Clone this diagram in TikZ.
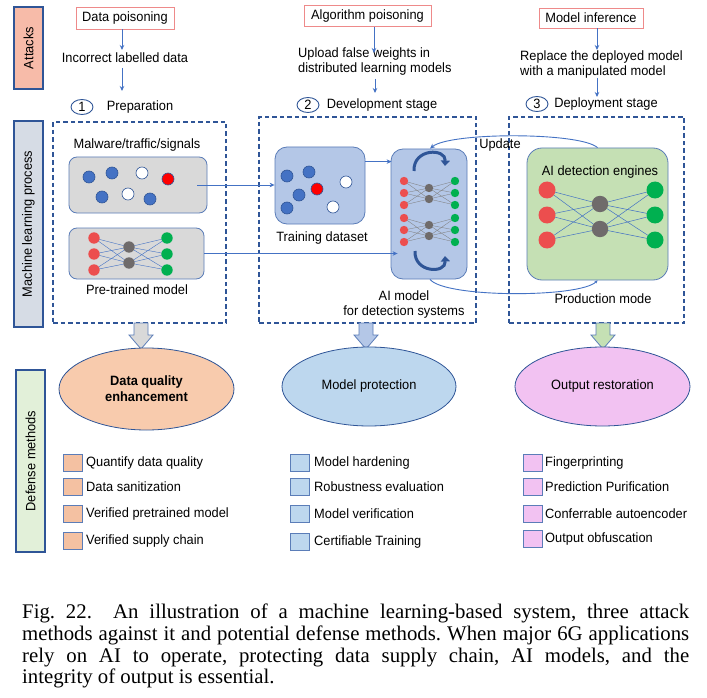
\documentclass[tikz,border=0pt]{standalone}
\usepackage{fontspec}
\setmainfont{Liberation Sans}[FakeStretch=0.95]
\newfontfamily\capfont{Liberation Serif}
\usetikzlibrary{arrows.meta,shapes.geometric,calc}
\definecolor{dblue}{HTML}{2F5597}
\definecolor{ablue}{HTML}{4472C4}
\definecolor{bordb}{HTML}{5B7DB8}
\definecolor{attfill}{HTML}{F7BBA9}
\definecolor{mlfill}{HTML}{D6DCE5}
\definecolor{deffill}{HTML}{E2F0D9}
\definecolor{pinkb}{HTML}{EE8A8A}
\definecolor{grayfill}{HTML}{D9D9D9}
\definecolor{bluefill}{HTML}{B4C7E7}
\definecolor{greenfill}{HTML}{C5E0B4}
\definecolor{orfill}{HTML}{F8CBAD}
\definecolor{sqor}{HTML}{F4C1A2}
\definecolor{lbfill}{HTML}{BDD7EE}
\definecolor{pkfill}{HTML}{F2C2F2}
\definecolor{nnred}{HTML}{EC4E4E}
\definecolor{nngreen}{HTML}{00B050}
\definecolor{nngray}{HTML}{6F6B6B}
\begin{document}
\frenchspacing
\begin{tikzpicture}[x=1pt,y=-1pt,
  font=\fontsize{13.5}{15.5}\selectfont,
  lab/.style={draw=dblue,line width=1.1pt,inner sep=0pt,minimum width=29pt},
  attbox/.style={draw=pinkb,line width=0.8pt,fill=white,inner sep=0pt},
  conn/.style={draw=ablue,line width=0.9pt,-{Stealth[length=5pt,width=4.5pt]}},
  dbox/.style={draw=dblue,line width=1.1pt,dash pattern=on 4.5pt off 3pt,inner sep=0pt},
  rbox/.style={draw=bordb,line width=0.8pt,inner sep=0pt},
  numc/.style={ellipse,draw=dblue,line width=0.9pt,inner sep=0pt,minimum width=22pt,minimum height=15pt},
  ell/.style={ellipse,draw=dblue,line width=0.8pt,inner sep=0pt,align=center},
  sq/.style={draw=bordb,line width=0.8pt,minimum width=19pt,minimum height=17pt,inner sep=0pt},
  item/.style={anchor=west,inner sep=0pt},
  txt/.style={inner sep=0pt}
]
\useasboundingbox (0,0) rectangle (707,698);
\fill[white] (0,0) rectangle (707,698);

% left labels
\node[lab,fill=attfill,minimum height=82pt] (att) at (28.5,48) {};
\node[rotate=90,txt] at (att.center) {Attacks};
\node[lab,fill=mlfill,minimum height=206pt] (mlp) at (28.5,224) {};
\node[rotate=90,txt] at (mlp.center) {Machine learning process};
\node[lab,fill=deffill,minimum height=182pt] (def) at (30.5,461) {};
\node[rotate=90,txt] at (def.center) {Defense methods};

% attacks
\node[attbox,minimum width=98pt,minimum height=22pt] (dp) at (125,18) {Data poisoning};
\node[txt] (t1) at (125,58) {Incorrect labelled data};
\coordinate (p1) at (122,91);
\draw[conn] (dp.south -| p1) -- (122,50);
\draw[conn] (122,68) -- (p1);
\node[numc] (c1) at (82,107) {1};
\node[txt] (prep) at (140,107) {Preparation};

\node[attbox,minimum width=127pt,minimum height=21pt] (ap) at (367.5,16) {Algorithm poisoning};
\node[txt,anchor=west,align=left,font=\fontsize{13.5}{15}\selectfont] (t2) at (298,62) {Upload false weights in\\distributed learning models};
\coordinate (p2) at (375,93);
\draw[conn] (ap.south -| 374,0) -- (374,53);
\draw[conn] (375,79) -- (p2);
\node[numc] (c2) at (308,105) {2};
\node[txt] (dev) at (382,105) {Development stage};

\node[attbox,minimum width=104pt,minimum height=20pt] (mi) at (591,18) {Model inference};
\node[txt,anchor=west,align=left,font=\fontsize{13.5}{15}\selectfont] (t3) at (520,64.5) {Replace the deployed model\\with a manipulated model};
\coordinate (p3) at (597,97);
\draw[conn] (mi.south -| p3) -- (597,50);
\draw[conn] (597,78) -- (p3);
\node[numc] (c3) at (537,104) {3};
\node[txt] (dep) at (606,104) {Deployment stage};

% dashed boxes
\node[dbox,minimum width=173pt,minimum height=201pt] (box1) at (139.5,222.5) {};
\node[dbox,minimum width=217pt,minimum height=206pt] (box2) at (367.5,220) {};
\node[dbox,minimum width=175pt,minimum height=206pt] (box3) at (596.5,220) {};

% box 1 content
\node[txt] (mts) at (137,145) {Malware/traffic/signals};
\node[rbox,fill=grayfill,rounded corners=8pt,minimum width=138pt,minimum height=56pt] (g1) at (138,185) {};
\foreach \x/\y in {89/177,112/173,102/197,150/199}
  \draw[draw=dblue,fill=ablue,line width=0.6pt] (\x,\y) circle (6);
\foreach \x/\y in {142/173,128/194}
  \draw[draw=dblue,fill=white,line width=0.6pt] (\x,\y) circle (6);
\draw[draw=dblue,fill=red,line width=0.6pt] (168,179) circle (6);

\node[rbox,fill=grayfill,rounded corners=8pt,minimum width=135pt,minimum height=51pt] (g2) at (136.5,253.5) {};
\foreach \a in {238,254,270} \foreach \b in {247,263} {
  \draw[ablue,line width=0.4pt] (94,\a) -- (129,\b);
  \draw[ablue,line width=0.4pt] (129,\b) -- (167,\a);}
\foreach \a in {238,254,270} {
  \fill[nnred] (94,\a) circle (5.7);
  \fill[nngreen] (167,\a) circle (5.7);}
\foreach \b in {247,263} \fill[nngray] (129,\b) circle (5.7);
\node[txt] (ptm) at (137,290) {Pre-trained model};

% box 2 content
\node[rbox,fill=bluefill,rounded corners=12pt,minimum width=90pt,minimum height=77pt] (td) at (320,185.5) {};
\foreach \x/\y in {287/176,309/172,299/195,287/208}
  \draw[draw=dblue,fill=ablue,line width=0.6pt] (\x,\y) circle (6);
\foreach \x/\y in {346/182,333/207}
  \draw[draw=dblue,fill=white,line width=0.6pt] (\x,\y) circle (6);
\draw[draw=dblue,fill=red,line width=0.6pt] (317,189) circle (6);
\node[txt] (tdl) at (322,238) {Training dataset};

\node[rbox,fill=bluefill,rounded corners=12pt,minimum width=76pt,minimum height=130pt] (ai) at (429,214) {};
\foreach \o in {0,37} {
  \foreach \a in {181,193,205} \foreach \b in {188,199} {
    \draw[gray,line width=0.35pt] (404,\a+\o) -- (429,\b+\o);
    \draw[gray,line width=0.35pt] (429,\b+\o) -- (455,\a+\o);}
  \foreach \a in {181,193,205} {
    \fill[nnred] (404,\a+\o) circle (4.2);
    \fill[nngreen] (455,\a+\o) circle (4.2);}
  \foreach \b in {188,199} \fill[nngray] (429,\b+\o) circle (4.2);
}
\draw[dblue,line width=3pt,-{Triangle[length=5.5pt,width=9pt]}] (414,171) .. controls (413,148) and (446,148) .. (445,166);
\draw[dblue,line width=3pt,-{Triangle[length=5.5pt,width=9pt]}] (415,251) .. controls (414,273) and (446,274) .. (445,256);
\node[txt,align=center] (ail) at (404,304.5) {AI model\\for detection systems};

\draw[conn] (g1.east) ++(-10,0) -- (td.west |- g1.east);
\draw[conn] (g2.east) -- ($(ai.west |- g2.east)+(7,0)$);
\draw[conn] ($(td.north east)+(0,15)$) -- ($(ai.west |- td.north east)+(1,15)$);

% box 3 content
\node[rbox,fill=greenfill,rounded corners=15pt,minimum width=141pt,minimum height=132pt] (ge) at (597.5,214) {};
\node[txt] (ade) at (600,172) {AI detection engines};
\foreach \a in {190,215,240} \foreach \b in {204,229} {
  \draw[ablue,line width=0.5pt] (547,\a) -- (600,\b);
  \draw[ablue,line width=0.5pt] (600,\b) -- (655,\a);}
\foreach \a in {190,215,240} {
  \fill[nnred] (547,\a) circle (8.5);
  \fill[nngreen] (655,\a) circle (8.5);}
\foreach \b in {204,229} \fill[nngray] (600,\b) circle (8.2);
\node[txt] (pm) at (603,299) {Production mode};

% update / production curves
\draw[conn,-{Stealth[length=5pt,width=4.5pt]}] (ge.north) .. controls (580,132) and (450,132) .. ($(ai.north)+(1,0)$);
\node[txt] (upd) at (500,145) {Update};
\draw[conn,-{Stealth[length=3pt,width=3pt]}] ($(ai.south)+(1,0)$) .. controls (445,298) and (580,298) .. (ge.south);

% block arrows
\foreach \x/\c in {141/grayfill,366/bluefill,603/greenfill}
  \draw[draw=bordb,fill=\c,line width=0.8pt] (\x-7,323) -- (\x-7,335) -- (\x-12,335) -- (\x,349) -- (\x+12,335) -- (\x+7,335) -- (\x+7,323) -- cycle;

% ellipses
\node[ell,fill=orfill,minimum width=175pt,minimum height=82pt,font=\bfseries\fontsize{13.5}{16}\selectfont] (e1) at (146.5,389) {Data quality\\enhancement};
\node[ell,fill=lbfill,minimum width=174pt,minimum height=79pt] (e2) at (369,386.5) {Model protection};
\node[ell,fill=pkfill,minimum width=175pt,minimum height=79pt] (e3) at (602.5,386.5) {Output restoration};

% lists
\foreach \y/\t [count=\i] in {463/Quantify data quality,487/Data sanitization,514/Verified pretrained model,541/Verified supply chain} {
  \node[sq,fill=sqor] (sa\i) at (72.5,\y) {};
  \node[item] (la\i) at (86,\y) {\t};}
\foreach \y/\t [count=\i] in {463/Model hardening,487/Robustness evaluation,514/Model verification,542/Certifiable Training} {
  \node[sq,fill=lbfill] (sb\i) at (299.5,\y) {};
  \node[item] (lb\i) at (314,\y) {\t};}
\foreach \y/\t [count=\i] in {463/Fingerprinting,487/Prediction Purification,514/Conferrable autoencoder,539/Output obfuscation} {
  \node[sq,fill=pkfill] (sc\i) at (532.5,\y) {};
  \node[item] (lc\i) at (545,\y) {\t};}

% caption
\node[anchor=north west,inner sep=0pt,text width=667pt,align=justify,
  font=\capfont\fontsize{20.8}{21.7}\selectfont] (cap) at (22,604)
  {Fig.~22.\hspace{0.5em} An illustration of a machine learning-based system, three attack\linebreak
   methods against it and potential defense methods. When major 6G applications\linebreak
   rely on AI to operate, protecting data supply chain, AI models, and the\linebreak
   integrity of output is essential.};
\end{tikzpicture}
\end{document}
